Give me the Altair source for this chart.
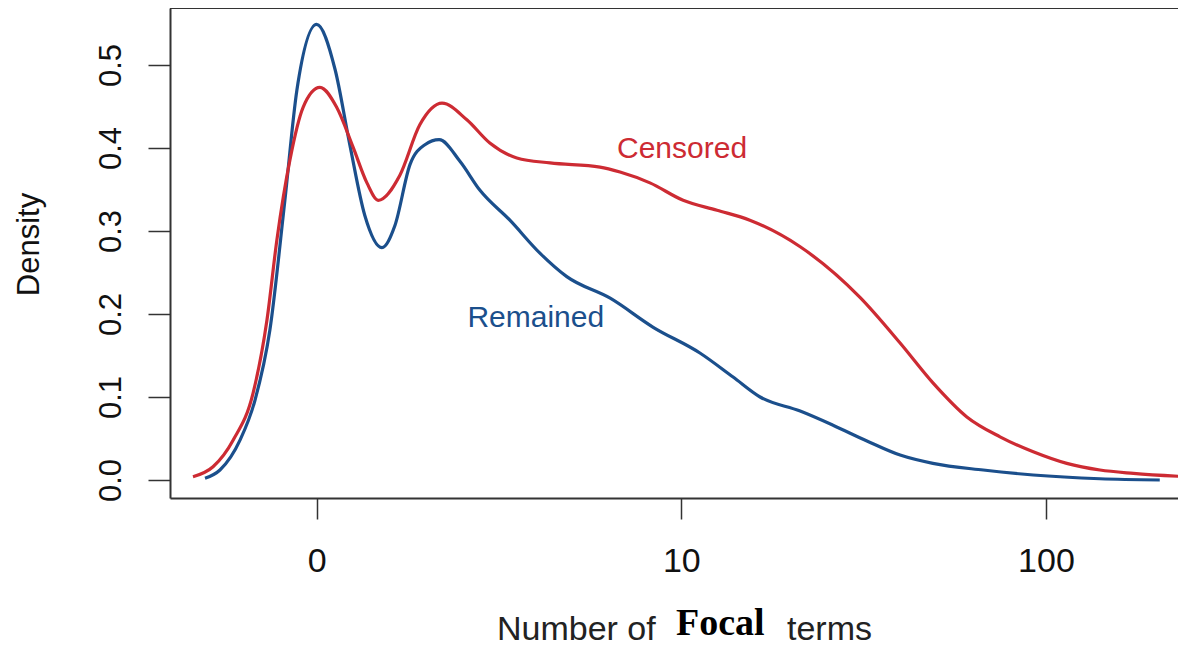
import altair as alt
import pandas as pd

# x is on a log10-type scale: position 0 -> "0", 1 -> "10", 2 -> "100"
remained_x = [-0.306, -0.265, -0.210, -0.169, -0.128, -0.087, -0.054, 0.0, 0.051, 0.091, 0.132, 0.179,
              0.215, 0.256, 0.297, 0.336, 0.393, 0.448, 0.530, 0.613, 0.686, 0.805, 0.923, 1.051,
              1.142, 1.216, 1.326, 1.416, 1.509, 1.600, 1.690, 1.828, 1.965, 2.148, 2.312]
remained_y = [0.002, 0.012, 0.048, 0.096, 0.181, 0.337, 0.470, 0.549, 0.494, 0.404, 0.319, 0.280,
              0.307, 0.380, 0.404, 0.410, 0.384, 0.349, 0.313, 0.273, 0.245, 0.219, 0.184, 0.153,
              0.124, 0.100, 0.083, 0.066, 0.047, 0.030, 0.020, 0.012, 0.006, 0.0015, 0.0]

censored_x = [-0.339, -0.284, -0.229, -0.174, -0.136, -0.109, -0.073, -0.037, 0.009, 0.055, 0.100,
              0.138, 0.169, 0.228, 0.283, 0.344, 0.412, 0.475, 0.549, 0.640, 0.777, 0.832, 0.914,
              1.005, 1.098, 1.188, 1.326, 1.490, 1.600, 1.690, 1.783, 1.874, 1.965, 2.057, 2.148,
              2.240, 2.384]
censored_y = [0.004, 0.016, 0.048, 0.105, 0.193, 0.289, 0.386, 0.449, 0.473, 0.449, 0.401,
              0.358, 0.337, 0.367, 0.428, 0.454, 0.434, 0.406, 0.388, 0.382, 0.377, 0.371, 0.358,
              0.337, 0.325, 0.313, 0.281, 0.220, 0.165, 0.117, 0.076, 0.052, 0.034, 0.020, 0.012,
              0.008, 0.004]

x_tick_values = [0, 1, 2]
x_tick_labels = ["0", "10", "100"]
y_tick_values = [0.0, 0.1, 0.2, 0.3, 0.4, 0.5]

series_names = ["Remained", "Censored"]
series_colors = ["#1B4F8C", "#CD2B33"]
label_x = [0.601, 1.002]
label_y = [0.184, 0.388]

x_domain = [-0.402, 2.362]
y_domain = [-0.0217, 0.5687]

W, H = 1008, 490
FRAME = "#333333"
FONT = "Liberation Sans"

df = pd.concat([
    pd.DataFrame({"u": remained_x, "d": remained_y, "s": "Remained"}),
    pd.DataFrame({"u": censored_x, "d": censored_y, "s": "Censored"}),
])
labels_df = pd.DataFrame({"u": label_x, "d": label_y, "s": series_names})

label_expr = " : ".join(
    f"datum.value == {v} ? '{t}'" for v, t in zip(x_tick_values, x_tick_labels)
) + " : ''"

xscale = alt.Scale(domain=x_domain, nice=False, zero=False)
yscale = alt.Scale(domain=y_domain, nice=False, zero=False)
color = alt.Color("s:N", scale=alt.Scale(domain=series_names, range=series_colors), legend=None)

x_enc = alt.X(
    "u:Q", scale=xscale, title=None,
    axis=alt.Axis(values=x_tick_values, labelExpr=label_expr, grid=False,
                  domainColor=FRAME, domainWidth=2, tickColor=FRAME, tickWidth=1.5,
                  tickSize=21, labelFont=FONT, labelFontSize=34, labelColor="#111111",
                  labelPadding=25, labelFlush=False, labelOverlap=False),
)
y_enc = alt.Y(
    "d:Q", scale=yscale, title="Density",
    axis=alt.Axis(values=y_tick_values, format=".1f", grid=False,
                  domainColor=FRAME, domainWidth=2, tickColor=FRAME, tickWidth=1.5,
                  tickSize=22, labelFont=FONT, labelFontSize=31, labelColor="#111111",
                  labelAngle=270, labelAlign="center", labelBaseline="alphabetic",
                  labelPadding=28, labelFlush=False, labelOverlap=False,
                  titleFont=FONT, titleFontSize=31, titleFontWeight="normal", titleColor="#111111",
                  titleAngle=270, titleAlign="center", titleBaseline="alphabetic",
                  titleX=-132, titleY=236),
)

lines = alt.Chart(df).mark_line(strokeWidth=3.2, interpolate="monotone", clip=True).encode(
    x=x_enc, y=y_enc, color=color, detail="s:N"
)

labels = alt.Chart(labels_df).mark_text(
    font=FONT, fontSize=30, align="center", baseline="alphabetic"
).encode(x=alt.X("u:Q", scale=xscale), y=alt.Y("d:Q", scale=yscale), text="s:N", color=color)

top_border = alt.Chart(pd.DataFrame({"k": [0]})).mark_rule(color=FRAME, strokeWidth=2).encode(
    x=alt.value(0), x2=alt.value(W), y=alt.value(0)
)

title_parts = [
    ("Number of", 327, 632, FONT, 34, "normal", "#222222"),
    ("Focal", 506, 627, "Liberation Serif", 38, "bold", "#000000"),
    ("terms", 617, 632, FONT, 34, "normal", "#222222"),
]
title_layers = []
for txt, px, py, fnt, fs, fw, col in title_parts:
    title_layers.append(
        alt.Chart(pd.DataFrame({"t": [txt]})).mark_text(
            font=fnt, fontSize=fs, fontWeight=fw, color=col, align="left", baseline="alphabetic"
        ).encode(x=alt.value(px), y=alt.value(py), text="t:N")
    )

chart = alt.layer(lines, labels, top_border, *title_layers).properties(
    width=W, height=H,
    autosize=alt.AutoSizeParams(type="none"),
    padding={"left": 162, "top": 0, "right": 0, "bottom": 150},
    background="white",
).configure_view(stroke=None)

chart.save("out.html", embed_options={"renderer": "svg", "actions": False})
